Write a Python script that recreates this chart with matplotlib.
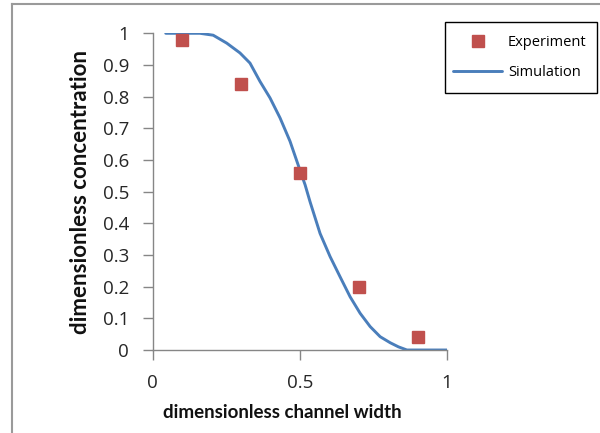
import matplotlib
matplotlib.use("Agg")
import matplotlib.pyplot as plt
from matplotlib.lines import Line2D
from matplotlib.patches import Rectangle

plt.rcParams['font.family'] = ['Open Sans', 'DejaVu Sans']

# Experimental measurements
exp_x = [0.1, 0.3, 0.5, 0.7, 0.9]
exp_y = [0.98, 0.84, 0.56, 0.20, 0.04]

# Simulated concentration profile
sim_x = [0.045, 0.10, 0.161, 0.206, 0.252, 0.297, 0.331, 0.365, 0.399, 0.433,
         0.467, 0.501, 0.518, 0.535, 0.569, 0.603, 0.637, 0.671, 0.705, 0.739,
         0.773, 0.807, 0.835, 0.864, 0.93, 1.0]
sim_y = [1.0, 1.0, 1.0, 0.994, 0.969, 0.938, 0.906, 0.848, 0.796, 0.733,
         0.659, 0.567, 0.522, 0.468, 0.368, 0.295, 0.231, 0.168, 0.116, 0.074,
         0.042, 0.023, 0.01, 0.0, 0.0, 0.0]

x_ticks = [0, 0.5, 1]
x_tick_labels = ['0', '0.5', '1']
y_ticks = [0, 0.1, 0.2, 0.3, 0.4, 0.5, 0.6, 0.7, 0.8, 0.9, 1]
y_tick_labels = ['0', '0.1', '0.2', '0.3', '0.4', '0.5', '0.6', '0.7', '0.8', '0.9', '1']

W, H = 600, 433
fig = plt.figure(figsize=(W / 100, H / 100), dpi=100)
ax = fig.add_axes([152.5 / W, 1 - 350 / H, 294.5 / W, 316.7 / H])

line, = ax.plot(sim_x, sim_y, color='#4A7EBB', lw=2.1, label='Simulation',
                solid_capstyle='round', solid_joinstyle='round', zorder=2)
pts, = ax.plot(exp_x, exp_y, linestyle='none', marker='s', ms=9,
               color='#C0504D', mec='#C0504D', label='Experiment', zorder=3)

ax.set_xlim(0, 1)
ax.set_ylim(0, 1)
ax.set_xticks(x_ticks)
ax.set_xticklabels(x_tick_labels)
ax.set_yticks(y_ticks)
ax.set_yticklabels(y_tick_labels)

for side in ('top', 'right'):
    ax.spines[side].set_visible(False)
for side in ('left', 'bottom'):
    ax.spines[side].set_color('#868686')
    ax.spines[side].set_linewidth(1.0)
ax.tick_params(axis='both', colors='#868686', labelcolor='#262626',
               labelsize=13.5, length=7, width=1.0, direction='out')
ax.tick_params(axis='y', pad=10)
ax.tick_params(axis='x', pad=10)

ax.set_xlabel('dimensionless channel width', fontsize=13.5, fontweight='bold',
              color='#111111', family=['Lato', 'DejaVu Sans'])
ax.xaxis.set_label_coords((282 - 152.5) / 294.5, (350 - 413) / 316.7)
ax.xaxis.label.set_verticalalignment('center')
ax.set_ylabel('dimensionless concentration', fontsize=16, fontweight='bold',
              color='#111111', labelpad=8, family=['Lato', 'DejaVu Sans'])

# Legend box with entries placed inside it
fig.add_artist(Rectangle((445 / W, 1 - 93 / H), 152 / W, 71 / H,
                         transform=fig.transFigure, facecolor='white',
                         edgecolor='black', lw=1.0, zorder=4))
leg = fig.legend(handles=[pts, line], loc='upper left',
                 bbox_to_anchor=(445 / W, 1 - 31 / H, 152 / W, 0.01),
                 mode='expand', fontsize=10.5, frameon=False,
                 handlelength=3.36, handletextpad=0.4,
                 labelspacing=1.08, borderpad=0.55, borderaxespad=0)
leg.set_zorder(5)

# Outer frame edges
fig.add_artist(Line2D([11.5 / W, 1], [1 - 3.5 / H, 1 - 3.5 / H],
                      transform=fig.transFigure, color='#9a9a9a', lw=1.5))
fig.add_artist(Line2D([11.5 / W, 11.5 / W], [0, 1 - 3.5 / H],
                      transform=fig.transFigure, color='#9a9a9a', lw=1.5))

fig.savefig('out.png', dpi=100)
